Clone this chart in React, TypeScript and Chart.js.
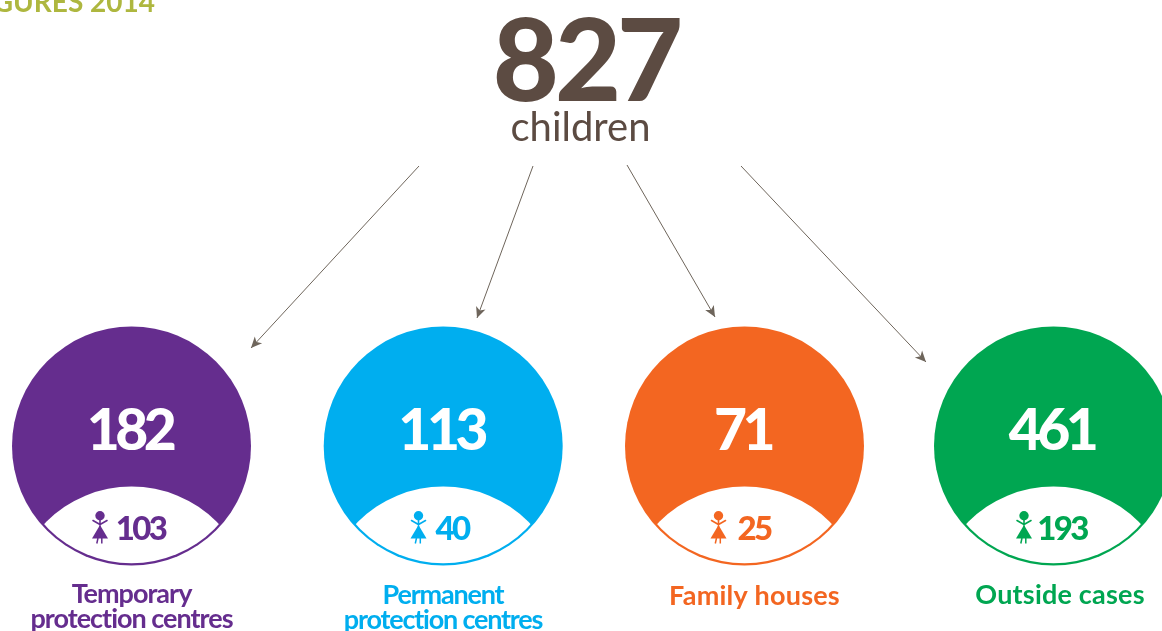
import React, { useEffect, useRef } from "react";
import { Chart, registerables } from "chart.js";

Chart.register(...registerables);

// ---- data ----
const overallTotal = 827;
const overallUnit = "children";
const headerText = "GURES 2014";
const totals = [182, 113, 71, 461];
const girls = [103, 40, 25, 193];
const categoryLines = [
  ["Temporary", "protection centres"],
  ["Permanent", "protection centres"],
  ["Family houses"],
  ["Outside cases"],
];

// ---- layout (in the axis units, which span the picture) ----
const WIDTH = 1162;
const HEIGHT = 631;
const centreX = [131.5, 443.2, 744.5, 1053.5];
const centreY = 446;
const radius = 119.5;
const arrowStartX = [419, 533, 627, 741];
const arrowStartY = [166, 166, 165, 166];
const arrowEndX = [251, 477, 715, 926];
const arrowEndY = [348, 318, 317, 362];
const girlIconX = [100, 418.5, 718.5, 1024];
const girlTextX = [140.5, 452, 754, 1062];
const labelX = [131.5, 443, 754.5, 1060];
const labelY = [602.5, 603.5, 604.5, 604];
const colours = ["#652D8E", "#00AEEF", "#F36621", "#00A651"];
const BROWN = "#5C4B42";
const ARROW = "#6E655B";
const OLIVE = "#AEB73F";
const FONT = "Lato, Carlito, sans-serif";

function drawText(
  ctx: CanvasRenderingContext2D,
  text: string,
  x: number,
  y: number,
  font: string,
  colour: string,
  spacing = 0,
  align: CanvasTextAlign = "center"
) {
  ctx.font = font;
  ctx.fillStyle = colour;
  ctx.textAlign = align;
  ctx.textBaseline = "alphabetic";
  (ctx as any).letterSpacing = `${spacing}px`;
  ctx.fillText(text, x, y);
  (ctx as any).letterSpacing = "0px";
}

function drawGirl(ctx: CanvasRenderingContext2D, cx: number, top: number, colour: string) {
  ctx.save();
  ctx.fillStyle = colour;
  ctx.strokeStyle = colour;
  ctx.lineWidth = 1.6;
  ctx.lineCap = "round";
  ctx.beginPath();
  ctx.arc(cx, top + 4.7, 4.7, 0, Math.PI * 2);
  ctx.fill();
  ctx.beginPath();
  ctx.moveTo(cx - 7, top + 9.5);
  ctx.lineTo(cx, top + 13.5);
  ctx.lineTo(cx + 7, top + 9.5);
  ctx.moveTo(cx, top + 9);
  ctx.lineTo(cx, top + 16);
  ctx.stroke();
  ctx.beginPath();
  ctx.moveTo(cx, top + 14);
  ctx.lineTo(cx + 8, top + 27.5);
  ctx.lineTo(cx - 8, top + 27.5);
  ctx.closePath();
  ctx.fill();
  ctx.lineCap = "butt";
  ctx.lineWidth = 1.5;
  ctx.beginPath();
  ctx.moveTo(cx - 2, top + 27);
  ctx.lineTo(cx - 3.2, top + 32.5);
  ctx.moveTo(cx + 1.8, top + 27);
  ctx.lineTo(cx + 1.8, top + 32.5);
  ctx.stroke();
  ctx.restore();
}

const infographicPlugin = {
  id: "infographic",
  afterDatasetsDraw(chart: any) {
    const ctx: CanvasRenderingContext2D = chart.ctx;
    const sx = chart.scales.x;
    const sy = chart.scales.y;
    const px = (v: number) => sx.getPixelForValue(v);
    const py = (v: number) => sy.getPixelForValue(v);

    // arrow heads, at the end of each line dataset
    for (let i = 0; i < arrowStartX.length; i++) {
      const pts = chart.getDatasetMeta(i + 1).data;
      const a = pts[0];
      const b = pts[1];
      const ang = Math.atan2(b.y - a.y, b.x - a.x);
      ctx.save();
      ctx.translate(b.x, b.y);
      ctx.rotate(ang);
      ctx.fillStyle = ARROW;
      ctx.beginPath();
      ctx.moveTo(0, 0);
      ctx.lineTo(-11, -5);
      ctx.lineTo(-8, 0);
      ctx.lineTo(-11, 5);
      ctx.closePath();
      ctx.fill();
      ctx.restore();
    }

    // white lens at the foot of each circle, and everything written on it
    totals.forEach((total, i) => {
      const cx = px(centreX[i]);
      const cy = py(centreY);
      ctx.save();
      ctx.beginPath();
      ctx.arc(cx, cy, radius - 2.2, 0, Math.PI * 2);
      ctx.clip();
      ctx.fillStyle = "#FFFFFF";
      ctx.beginPath();
      ctx.arc(cx, cy + 161, radius + 1, 0, Math.PI * 2);
      ctx.fill();
      ctx.restore();

      drawText(ctx, String(total), cx - 2, py(450), `900 57px ${FONT}`, "#FFFFFF", -4.5);

      drawGirl(ctx, px(girlIconX[i]), py(511), colours[i]);
      drawText(ctx, String(girls[i]), px(girlTextX[i]), py(540), `900 33px ${FONT}`, colours[i], -2.6);

      const lines = categoryLines[i];
      const tight = lines.length > 1;
      lines.forEach((line, j) => {
        drawText(
          ctx,
          line,
          px(labelX[i]),
          py(labelY[i] + j * 25),
          `bold 27px ${FONT}`,
          colours[i],
          tight ? (i === 1 ? -1.2 : -1) : 0.2
        );
      });
    });

    drawText(ctx, String(overallTotal), px(586), py(101), `900 114px ${FONT}`, BROWN, -4);
    drawText(ctx, overallUnit, px(580.5), py(141), `40px ${FONT}`, BROWN, 0);
    drawText(ctx, headerText, px(155), py(12), `bold 28px ${FONT}`, OLIVE, 0, "right");
  },
};

export default function App() {
  const ref = useRef<HTMLCanvasElement>(null);

  useEffect(() => {
    document.body.style.margin = "0";
    document.body.style.background = "#FFFFFF";
    const chart = new Chart(ref.current as HTMLCanvasElement, {
      type: "bubble",
      data: {
        datasets: [
          {
            type: "bubble",
            label: "Children",
            data: totals.map((_, i) => ({ x: centreX[i], y: centreY, r: radius })),
            backgroundColor: colours,
            borderWidth: 0,
            clip: false,
          },
          ...arrowStartX.map((x0, i) => ({
            type: "scatter",
            label: categoryLines[i].join(" "),
            data: [
              { x: x0, y: arrowStartY[i] },
              { x: arrowEndX[i], y: arrowEndY[i] },
            ],
            showLine: true,
            borderColor: ARROW,
            borderWidth: 1,
            pointRadius: 0,
            pointHoverRadius: 0,
            clip: false,
          })),
        ] as any,
      },
      options: {
        animation: false,
        responsive: false,
        events: [],
        layout: { padding: 0, autoPadding: false },
        plugins: { legend: { display: false }, tooltip: { enabled: false }, title: { display: false } },
        scales: {
          x: { type: "linear", min: 0, max: WIDTH, display: false },
          y: { type: "linear", min: 0, max: HEIGHT, reverse: true, display: false },
        },
      },
      plugins: [infographicPlugin],
    } as any);
    return () => chart.destroy();
  }, []);

  return <canvas ref={ref} width={WIDTH} height={HEIGHT} style={{ display: "block" }} />;
}
